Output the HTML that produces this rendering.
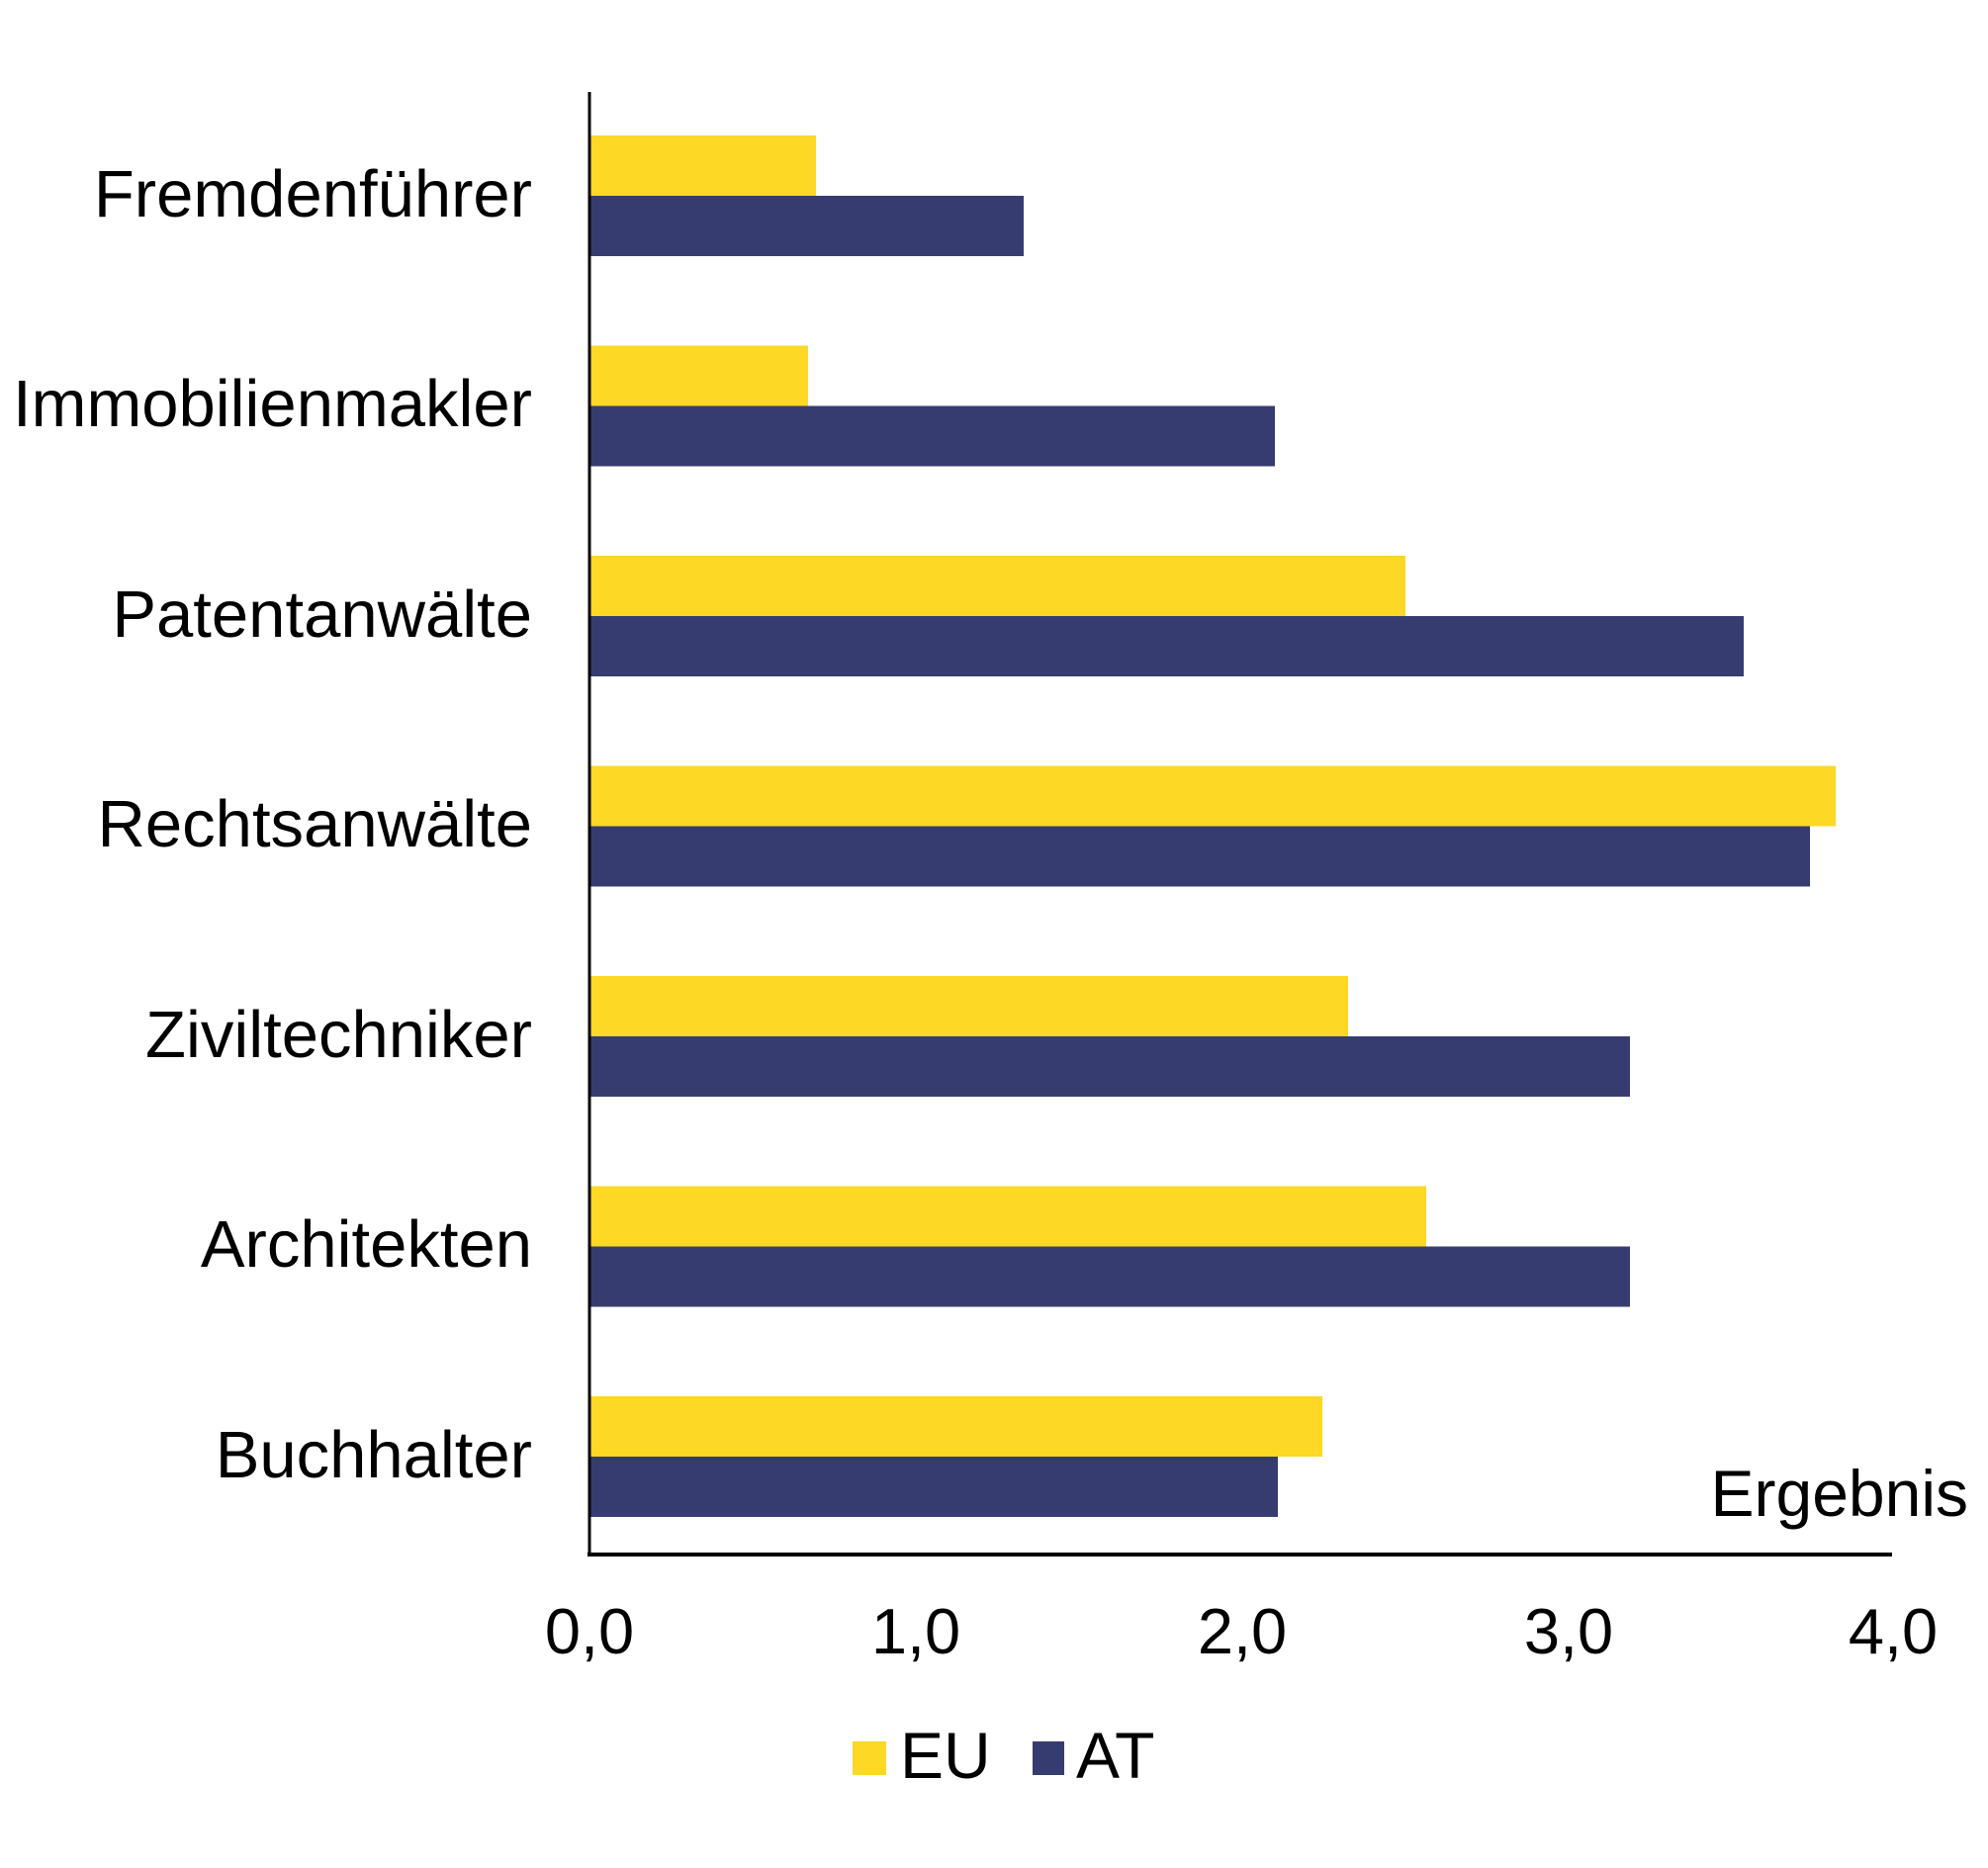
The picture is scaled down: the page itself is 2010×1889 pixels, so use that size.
<!DOCTYPE html>
<html><head><meta charset="utf-8"><style>
body{margin:0;background:#fff}
svg{display:block}
text{font-family:"Liberation Sans",Arial,sans-serif;fill:#000}
</style></head><body>
<svg width="2010" height="1889" viewBox="0 0 2010 1889" xmlns="http://www.w3.org/2000/svg">
<g>
<rect x="596" y="137" width="229" height="61" fill="#FDD825"/>
<rect x="596" y="198" width="439" height="61" fill="#373C70"/>
<rect x="596" y="349.5" width="221" height="61" fill="#FDD825"/>
<rect x="596" y="410.5" width="693" height="61" fill="#373C70"/>
<rect x="596" y="562" width="825" height="61" fill="#FDD825"/>
<rect x="596" y="623" width="1167" height="61" fill="#373C70"/>
<rect x="596" y="774.5" width="1260" height="61" fill="#FDD825"/>
<rect x="596" y="835.5" width="1234" height="61" fill="#373C70"/>
<rect x="596" y="987" width="767" height="61" fill="#FDD825"/>
<rect x="596" y="1048" width="1052" height="61" fill="#373C70"/>
<rect x="596" y="1199.5" width="846" height="61" fill="#FDD825"/>
<rect x="596" y="1260.5" width="1052" height="61" fill="#373C70"/>
<rect x="596" y="1412" width="741" height="61" fill="#FDD825"/>
<rect x="596" y="1473" width="696" height="61" fill="#373C70"/>
</g>
<line x1="596" y1="93" x2="596" y2="1574" stroke="#000" stroke-width="3"/>
<line x1="594" y1="1572" x2="1913" y2="1572" stroke="#000" stroke-width="4"/>
<g font-size="67" text-anchor="end">
<text x="538" y="219">Fremdenführer</text>
<text x="538" y="431">Immobilienmakler</text>
<text x="538" y="644">Patentanwälte</text>
<text x="538" y="856">Rechtsanwälte</text>
<text x="538" y="1069">Ziviltechniker</text>
<text x="538" y="1281">Architekten</text>
<text x="538" y="1494">Buchhalter</text>
</g>
<text x="1990" y="1533" font-size="66" text-anchor="end">Ergebnis</text>
<g font-size="65" text-anchor="middle">
<text x="596" y="1672">0,0</text>
<text x="926" y="1672">1,0</text>
<text x="1256" y="1672">2,0</text>
<text x="1586" y="1672">3,0</text>
<text x="1914" y="1672">4,0</text>
</g>
<rect x="862" y="1761" width="34" height="34" fill="#FDD825"/>
<text x="910" y="1798" font-size="66">EU</text>
<rect x="1044" y="1761" width="32" height="34" fill="#373C70"/>
<text x="1088" y="1798" font-size="66">AT</text>
</svg>
</body></html>
